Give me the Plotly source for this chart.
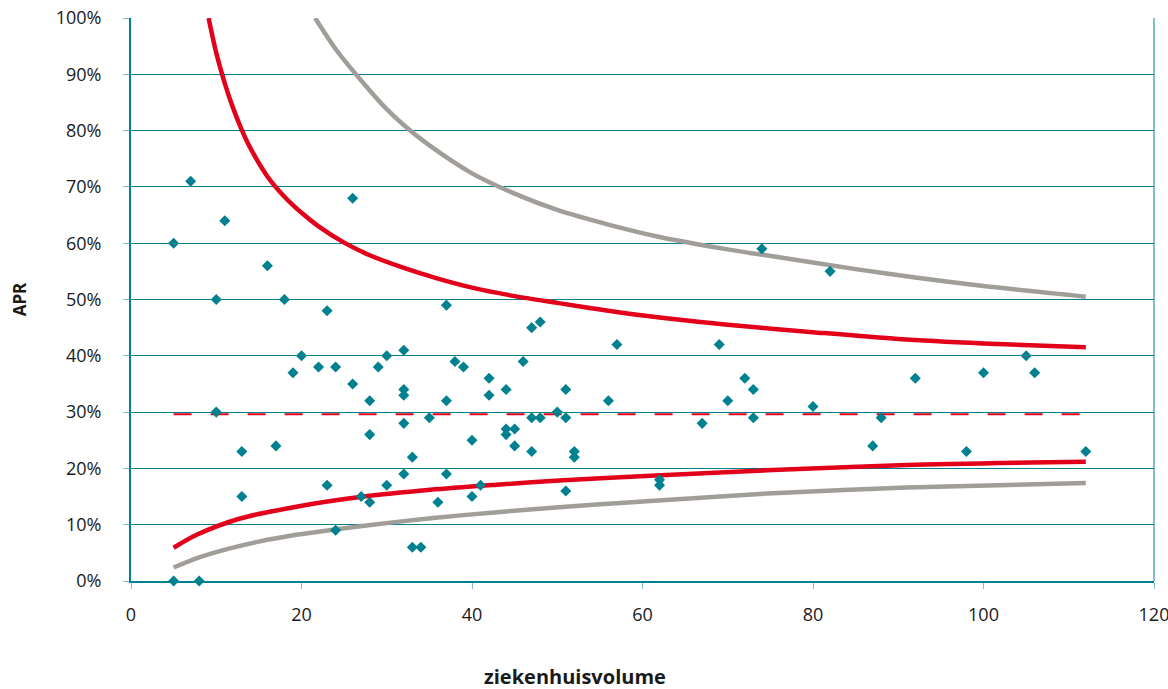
import plotly.graph_objects as go

# Hospital volume vs APR, one diamond per hospital
volume = [5, 5, 7, 8, 10, 10, 11, 13, 13, 16, 17, 18, 19, 20, 22, 23, 23, 24, 24, 26,
          26, 27, 28, 28, 28, 29, 30, 30, 32, 32, 32, 32, 32, 33, 33, 34, 35, 36, 37, 37,
          37, 38, 39, 40, 40, 41, 42, 42, 44, 44, 44, 45, 45, 46, 47, 47, 47, 48, 48, 50,
          51, 51, 51, 52, 52, 56, 57, 62, 62, 67, 69, 70, 72, 73, 73, 74, 80, 82, 87, 88,
          92, 98, 100, 105, 106, 112]
apr = [60, 0, 71, 0, 50, 30, 64, 23, 15, 56, 24, 50, 37, 40, 38, 48, 17, 38, 9, 68,
       35, 15, 32, 26, 14, 38, 40, 17, 41, 34, 33, 28, 19, 22, 6, 6, 29, 14, 49, 32,
       19, 39, 38, 25, 15, 17, 36, 33, 34, 27, 26, 27, 24, 39, 45, 29, 23, 46, 29, 30,
       34, 29, 16, 23, 22, 32, 42, 18, 17, 28, 42, 32, 36, 34, 29, 59, 31, 55, 24, 29,
       36, 23, 37, 40, 37, 23]

# Overall mean
mean_x = [5, 112]
mean_apr = [29.6, 29.6]

# Inner control limits (red)
red_upper_x = [9.1, 10, 11, 12, 13, 14, 16, 18, 20, 22, 25, 28, 32, 36, 40, 45, 50,
               56, 62, 70, 80, 90, 100, 112]
red_upper_y = [100, 93.8, 88.4, 83.9, 80.1, 76.9, 71.85, 68.25, 65.4, 63.0, 60.1, 57.85,
               55.6, 53.7, 52.1, 50.6, 49.4, 48.0, 46.8, 45.5, 44.2, 43.0, 42.2, 41.5]
red_lower_x = [5, 7.7, 12.8, 19.4, 27.3, 35.1, 42.9, 50.7, 60.9, 75.3, 91, 112]
red_lower_y = [5.9, 8.2, 11.1, 13.2, 15.0, 16.2, 17.1, 17.9, 18.7, 19.7, 20.6, 21.2]

# Outer control limits (grey)
grey_upper_x = [21.6, 24, 27, 30, 33, 36, 40, 45, 50, 56, 62, 70, 76, 85, 92, 100, 112]
grey_upper_y = [100, 94.5, 88.9, 83.8, 79.7, 76.3, 72.4, 68.8, 65.9, 63.3, 61.1, 58.9,
                57.5, 55.4, 53.9, 52.4, 50.5]
grey_lower_x = [5, 8, 11.6, 15, 19.4, 24.1, 31.2, 39, 46.8, 54.6, 60.9, 75.3, 91, 112]
grey_lower_y = [2.4, 4.2, 5.8, 7.0, 8.2, 9.2, 10.5, 11.7, 12.7, 13.6, 14.2, 15.6, 16.6, 17.4]

x_ticks = [0, 20, 40, 60, 80, 100, 120]
y_ticks = list(range(0, 101, 10))
y_tick_text = [f"{v}%" for v in y_ticks]

TEAL = "#00818F"
TICK = "#7FBFC8"
RED = "#E2001A"
GREY = "#A19D99"
FONT = "Open Sans"

fig = go.Figure()

for xs, ys in [(grey_upper_x, grey_upper_y), (grey_lower_x, grey_lower_y)]:
    fig.add_trace(go.Scatter(x=xs, y=ys, mode="lines",
                             line=dict(color=GREY, width=4.5, shape="spline", smoothing=0.8),
                             hoverinfo="skip", showlegend=False))
for xs, ys in [(red_upper_x, red_upper_y), (red_lower_x, red_lower_y)]:
    fig.add_trace(go.Scatter(x=xs, y=ys, mode="lines",
                             line=dict(color=RED, width=4.5, shape="spline", smoothing=0.8),
                             hoverinfo="skip", showlegend=False))

fig.add_trace(go.Scatter(x=mean_x, y=mean_apr, mode="lines",
                         line=dict(color=RED, width=2, dash="18px,19px"),
                         hoverinfo="skip", showlegend=False))

fig.add_trace(go.Scatter(x=volume, y=apr, mode="markers",
                         marker=dict(symbol="diamond", size=8.5, color=TEAL,
                                     line=dict(width=0)),
                         showlegend=False, cliponaxis=False))

fig.update_layout(
    width=1168, height=689,
    margin=dict(l=131, r=14, t=18, b=108),
    paper_bgcolor="white", plot_bgcolor="white",
    font=dict(family=FONT, size=18, color="#1a1a1a"),
)

fig.update_xaxes(
    range=[0, 120], tickmode="array", tickvals=x_ticks,
    showgrid=False, zeroline=False, automargin=False,
    showline=True, linecolor=TEAL, linewidth=2,
    ticks="outside", ticklen=6, tickcolor=TICK, tickwidth=1,
    ticklabelstandoff=10, ticklabeloverflow="allow",
    tickfont=dict(size=18),
)
fig.update_yaxes(
    range=[0, 100], tickmode="array", tickvals=y_ticks, ticktext=y_tick_text,
    showgrid=True, gridcolor=TEAL, gridwidth=1, zeroline=False, automargin=False,
    showline=True, linecolor=TEAL, linewidth=2,
    ticks="outside", ticklen=6, tickcolor=TICK, tickwidth=1,
    ticklabelstandoff=18,
    tickfont=dict(size=18),
    title=dict(text="<b>APR</b>", font=dict(size=17), standoff=25),
)

# x-axis title, set left of the axis centre
fig.add_annotation(text="<b>ziekenhuisvolume</b>", xref="paper", yref="paper",
                   x=0.434, y=-0.1705, xanchor="center", yanchor="middle",
                   showarrow=False, font=dict(size=20))

# thin right-hand frame edge
fig.add_shape(type="line", xref="paper", yref="paper", x0=1, x1=1, y0=0, y1=1,
              line=dict(color=TEAL, width=1))

fig.write_html("out.html")
